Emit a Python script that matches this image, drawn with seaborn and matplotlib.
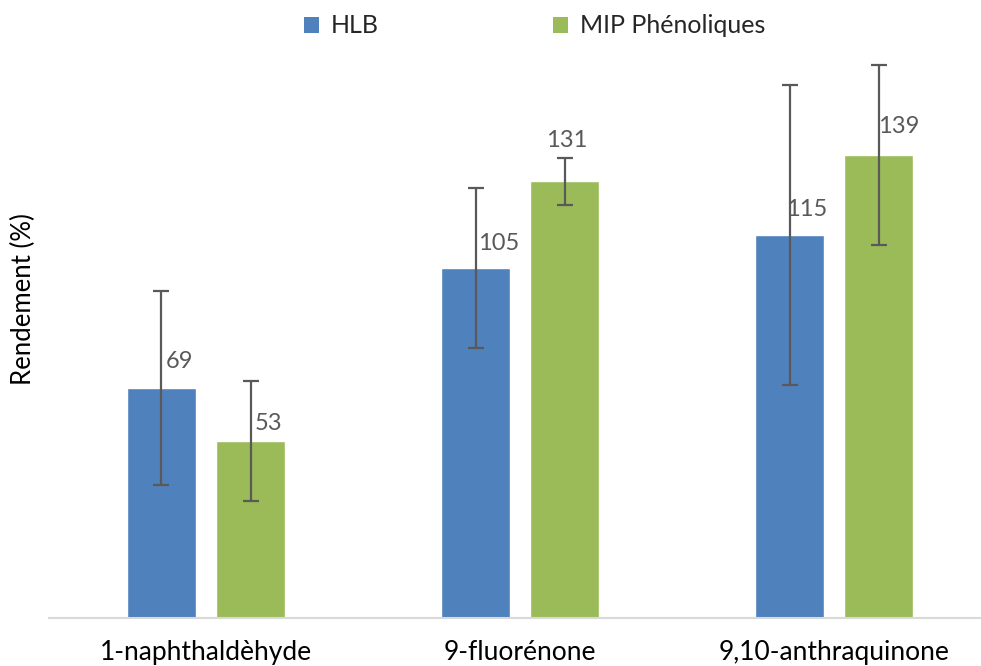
import matplotlib
matplotlib.use("Agg")
import matplotlib.pyplot as plt
import seaborn as sns
import pandas as pd
from matplotlib.patches import Patch

categories = ["1-naphthaldèhyde", "9-fluorénone", "9,10-anthraquinone"]
series = ["HLB", "MIP Phénoliques"]
hlb_values = [69, 105, 115]
mip_values = [53, 131, 139]
hlb_errors = [29, 24, 45]
mip_errors = [18, 7, 27]
ylabel = "Rendement (%)"

colors = {"HLB": "#4F81BD", "MIP Phénoliques": "#9BBB59"}

df = pd.DataFrame({
    "Composé": categories * 2,
    "Série": [series[0]] * 3 + [series[1]] * 3,
    "Rendement": hlb_values + mip_values,
})
errs = {series[0]: hlb_errors, series[1]: mip_errors}
vals = {series[0]: hlb_values, series[1]: mip_values}

sns.set_theme(style="white")
plt.rcParams["font.family"] = ["Lato", "DejaVu Sans"]

fig = plt.figure(figsize=(9.81, 6.66), dpi=100)
ax = fig.add_axes([49 / 981, 48 / 666, 1 - 49 / 981, 618 / 666])

sns.barplot(data=df, x="Composé", y="Rendement", hue="Série", order=categories,
            hue_order=series, palette=colors, width=0.567, gap=0.23,
            saturation=1, errorbar=None, ax=ax, legend=False)

label_offsets = {
    series[0]: [(18, 26), (23, 25), (17, 25)],
    series[1]: [(18, 18), (2, 41), (20, 28)],
}

for s, container in zip(series, ax.containers):
    for i, bar in enumerate(container):
        xc = bar.get_x() + bar.get_width() / 2
        h = bar.get_height()
        ax.errorbar(xc, h, yerr=errs[s][i], fmt="none", ecolor="#595959",
                    elinewidth=1.6, capsize=5.5, capthick=1.6, zorder=3)
        dx, dy = label_offsets[s][i]
        ax.annotate(f"{vals[s][i]}", xy=(xc, h), xytext=(dx * 0.72, dy * 0.72),
                    textcoords="offset points", ha="center", va="center",
                    fontsize=17, color="#595959", zorder=4)

ax.set_xlim(-0.5, 2.468)
ax.set_ylim(0, 185.4)
ax.set_yticks([])
ax.set_xlabel("")
ax.set_ylabel(ylabel, fontsize=18.5, color="#000000")
ax.yaxis.set_label_coords(-13 / 932, 319 / 618)
ax.tick_params(axis="x", length=0, labelsize=19, labelcolor="#000000", pad=16)
for side in ["top", "right", "left"]:
    ax.spines[side].set_visible(False)
ax.spines["bottom"].set_color("#D9D9D9")
ax.spines["bottom"].set_linewidth(1.5)

handles = [Patch(facecolor=colors[s], edgecolor="none") for s in series]
fig.legend(handles, series, loc="center", bbox_to_anchor=(0.545, 0.961), ncol=2,
           frameon=False, fontsize=18, handlelength=0.6, handleheight=0.6,
           handletextpad=0.45, columnspacing=7.0)

fig.savefig("out.png", dpi=100)
